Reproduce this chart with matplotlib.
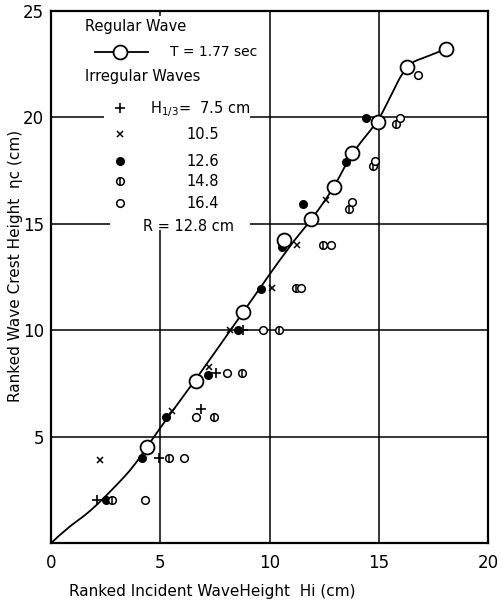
import numpy as np
import matplotlib.pyplot as plt
from matplotlib.path import Path
from matplotlib.patches import PathPatch

plt.rcParams['font.family'] = ['DejaVu Sans']

# regular wave, T = 1.77 sec
reg_hi = [4.38, 6.64, 8.8, 10.68, 11.9, 12.97, 13.76, 14.95, 16.28, 18.1]
reg_eta = [4.5, 7.62, 10.86, 14.25, 15.24, 16.73, 18.32, 19.78, 22.36, 23.22]

# hand-drawn curve through the regular wave points
curve_hi = [0, 0.72, 1.48, 2.09, 3.0, 3.77, 4.38, 5.26, 6.64, 8.8, 10.94,
            11.93, 12.97, 13.76, 14.95, 15.5, 16.28, 17.2, 18.1]
curve_eta = [0, 0.69, 1.24, 1.78, 2.72, 3.58, 4.5, 5.8, 7.7, 10.86, 13.99,
             15.2, 16.73, 18.32, 19.78, 20.9, 22.5, 22.85, 23.22]

# irregular waves, ranked by H1/3
h75_hi = [2.09, 4.95, 6.85, 7.55, 8.8]
h75_eta = [2.0, 4.0, 6.3, 8.0, 10.0]

h105_hi = [2.25, 5.55, 7.25, 8.2, 10.1, 11.27, 12.58]
h105_eta = [3.9, 6.2, 8.25, 10.0, 12.0, 14.0, 16.1]

h126_hi = [2.52, 4.15, 5.26, 7.2, 8.57, 9.6, 10.55, 11.52, 13.5, 14.42]
h126_eta = [2.0, 4.0, 5.9, 7.9, 10.0, 11.95, 13.9, 15.95, 17.9, 19.95]

h148_hi = [2.78, 5.42, 7.46, 8.73, 10.43, 11.2, 12.47, 13.64, 14.72, 15.79]
h148_eta = [2.0, 4.0, 5.9, 8.0, 10.0, 12.0, 14.0, 15.7, 17.7, 19.67]

h164_hi = [4.3, 6.1, 6.64, 8.07, 9.72, 11.45, 12.8, 13.76, 14.85, 15.97, 16.81]
h164_eta = [2.0, 4.0, 5.9, 8.0, 10.0, 12.0, 14.0, 16.0, 17.95, 19.95, 21.97]

fig = plt.figure(figsize=(5.01, 6.04), dpi=100)
ax = fig.add_axes([0.102, 0.101, 0.872, 0.881])

ax.set_xlim(0, 20)
ax.set_ylim(0, 25)

# grid, broken where the key sits
glw = 1.1
ax.vlines([10, 15], 0, 25, colors='k', lw=glw, zorder=1)
ax.vlines(5, 0, 14.7, colors='k', lw=glw, zorder=1)
ax.vlines(5, 24.75, 25, colors='k', lw=glw, zorder=1)
ax.hlines([5, 10], 0, 20, colors='k', lw=glw, zorder=1)
ax.hlines(20, 0, 2.4, colors='k', lw=glw, zorder=1)
ax.hlines(20, 9.1, 20, colors='k', lw=glw, zorder=1)
ax.hlines(15, 0, 2.7, colors='k', lw=glw, zorder=1)
ax.hlines(15, 9.1, 20, colors='k', lw=glw, zorder=1)

# smooth the curve: read points act as quadratic control points
pts = np.column_stack([curve_hi, curve_eta])
verts = [pts[0]]
codes = [Path.MOVETO]
for i in range(1, len(pts) - 1):
    verts += [pts[i], (pts[i] + pts[i + 1]) / 2]
    codes += [Path.CURVE3, Path.CURVE3]
verts.append(pts[-1])
codes.append(Path.LINETO)
ax.add_patch(PathPatch(Path(verts, codes), fc='none', ec='k', lw=1.3, zorder=2))

ms = 5.5
ax.plot(h75_hi, h75_eta, '+', color='k', ms=7.5, mew=1.2, zorder=3)
ax.plot(h105_hi, h105_eta, 'x', color='k', ms=5, mew=1.1, zorder=3)
ax.plot(h126_hi, h126_eta, 'o', color='k', ms=ms, zorder=3)
ax.plot(h148_hi, h148_eta, 'o', mfc='white', mec='k', ms=ms, mew=1.1, zorder=3)
ax.plot(h148_hi, h148_eta, '|', color='k', ms=ms, mew=1.1, zorder=3)
ax.plot(h164_hi, h164_eta, 'o', mfc='white', mec='k', ms=ms, mew=1.1, zorder=3)

ax.plot(reg_hi, reg_eta, 'o', mfc='white', mec='k', ms=10, mew=1.3, zorder=4)

# key
fs = 10.5
ax.text(1.56, 24.27, 'Regular Wave', fontsize=fs, va='center')
ax.plot([2.01, 4.44], [23.05, 23.05], color='k', lw=1.3)
ax.plot(3.16, 23.05, 'o', mfc='white', mec='k', ms=10, mew=1.3)
ax.text(5.45, 23.05, 'T = 1.77 sec', fontsize=10, va='center')
ax.text(1.56, 21.92, 'Irregular Waves', fontsize=fs, va='center')

ax.plot(3.16, 20.42, '+', color='k', ms=7.5, mew=1.2)
ax.text(4.53, 20.4, 'H$_{1/3}$=  7.5 cm', fontsize=fs, va='center')
ax.plot(3.16, 19.2, 'x', color='k', ms=5, mew=1.1)
ax.text(6.96, 19.18, '10.5', fontsize=fs, va='center', ha='center')
ax.plot(3.16, 17.93, 'o', color='k', ms=ms)
ax.text(6.96, 17.9, '12.6', fontsize=fs, va='center', ha='center')
ax.plot(3.16, 17.0, 'o', mfc='white', mec='k', ms=ms, mew=1.1)
ax.plot(3.16, 17.0, '|', color='k', ms=ms, mew=1.1)
ax.text(6.96, 16.98, '14.8', fontsize=fs, va='center', ha='center')
ax.plot(3.16, 15.96, 'o', mfc='white', mec='k', ms=ms, mew=1.1)
ax.text(6.96, 15.94, '16.4', fontsize=fs, va='center', ha='center')
ax.text(4.21, 14.88, 'R = 12.8 cm', fontsize=fs, va='center')

ax.set_xticks([0, 5, 10, 15, 20])
ax.set_yticks([5, 10, 15, 20, 25])
ax.tick_params(length=0, labelsize=12, pad=8)
ax.tick_params(axis='y', pad=5)
for s in ax.spines.values():
    s.set_linewidth(1.6)

ax.set_xlabel('Ranked Incident WaveHeight  Hi (cm)', fontsize=11)
ax.xaxis.set_label_coords(0.37, -0.092)
ax.xaxis.label.set_va('center')
ax.set_ylabel('Ranked Wave Crest Height  ηc (cm)', fontsize=11)
ax.yaxis.set_label_coords(-0.082, 0.52)
ax.yaxis.label.set_va('center')

fig.savefig('out.png', dpi=100)
